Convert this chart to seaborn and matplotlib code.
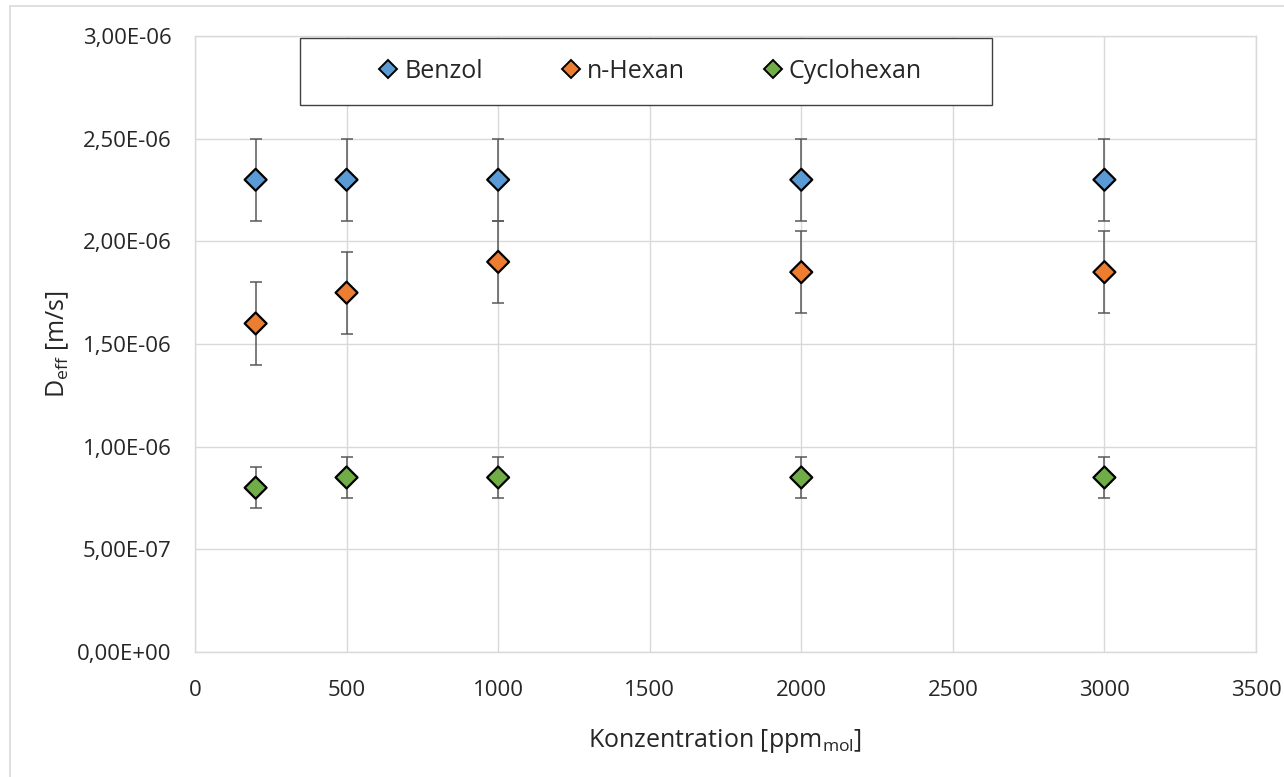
import matplotlib
matplotlib.use("Agg")
import matplotlib.pyplot as plt
from matplotlib.lines import Line2D
from matplotlib.patches import Rectangle
from matplotlib.ticker import FuncFormatter, MultipleLocator
import pandas as pd
import seaborn as sns

# Measured effective diffusion coefficients
concentration = [200, 500, 1000, 2000, 3000]
benzol = [2.30e-6, 2.30e-6, 2.30e-6, 2.30e-6, 2.30e-6]
benzol_err = [0.20e-6, 0.20e-6, 0.20e-6, 0.20e-6, 0.20e-6]
hexan = [1.60e-6, 1.75e-6, 1.90e-6, 1.85e-6, 1.85e-6]
hexan_err = [0.20e-6, 0.20e-6, 0.20e-6, 0.20e-6, 0.20e-6]
cyclohexan = [0.80e-6, 0.85e-6, 0.85e-6, 0.85e-6, 0.85e-6]
cyclohexan_err = [0.10e-6, 0.10e-6, 0.10e-6, 0.10e-6, 0.10e-6]

series_names = ["Benzol", "n-Hexan", "Cyclohexan"]
colors = ["#5B9BD5", "#ED7D31", "#70AD47"]

df = pd.concat([
    pd.DataFrame({"x": concentration, "y": vals, "err": errs, "Stoff": name})
    for name, vals, errs in zip(series_names, [benzol, hexan, cyclohexan],
                                [benzol_err, hexan_err, cyclohexan_err])
], ignore_index=True)

sns.set_theme(style="white")
plt.rcParams["font.family"] = ["Open Sans", "DejaVu Sans"]
plt.rcParams["mathtext.default"] = "regular"

fig = plt.figure(figsize=(12.84, 7.77), dpi=100)
ax = fig.add_axes([195 / 1284, 1 - 652 / 777, (1256 - 195) / 1284, (652 - 36) / 777])

grid_col = "#D9D9D9"
text_col = "#262626"

# error bars first, markers on top
for name in series_names:
    sub = df[df["Stoff"] == name]
    ax.errorbar(sub["x"], sub["y"], yerr=sub["err"], fmt="none",
                ecolor="#595959", elinewidth=1.1, capsize=4, capthick=1.1, zorder=2)

sns.scatterplot(data=df, x="x", y="y", hue="Stoff", hue_order=series_names,
                palette=colors, marker="D", s=125, edgecolor="black",
                linewidth=1.6, legend=False, zorder=3, ax=ax)

ax.set_xlim(0, 3500)
ax.set_ylim(0, 3.0e-6)
ax.xaxis.set_major_locator(MultipleLocator(500))
ax.yaxis.set_major_locator(MultipleLocator(0.5e-6))
ax.yaxis.set_major_formatter(FuncFormatter(lambda v, p: f"{v:.2E}".replace(".", ",")))

ax.grid(True, color=grid_col, linewidth=1.0)
ax.set_axisbelow(True)
for sp in ax.spines.values():
    sp.set_color(grid_col)
    sp.set_linewidth(1.0)

ax.tick_params(axis="both", length=0, labelsize=16, colors=text_col)
ax.tick_params(axis="y", pad=17)
ax.tick_params(axis="x", pad=20)

ax.set_xlabel("Konzentration [ppm$_{mol}$]", fontsize=18, color=text_col, labelpad=19)
ax.set_ylabel("D$_{eff}$ [m/s]", fontsize=18, color=text_col, labelpad=4)

# legend box
box_x0, box_x1, box_y0, box_y1 = 0.099, 0.751, 0.888, 0.997
ax.add_patch(Rectangle((box_x0, box_y0), box_x1 - box_x0, box_y1 - box_y0,
                       transform=ax.transAxes, facecolor="white", edgecolor="#404040",
                       linewidth=1.0, zorder=5, clip_on=False))
handles = [Line2D([], [], linestyle="none", marker="D", markersize=9,
                  markerfacecolor=c, markeredgecolor="black", markeredgewidth=1.4)
           for c in colors]
leg = ax.legend(handles, series_names, loc="center", ncol=3,
                bbox_to_anchor=((box_x0 + box_x1) / 2 + 0.004, (box_y0 + box_y1) / 2),
                fontsize=18, frameon=False, handletextpad=0.25,
                handlelength=0.8, columnspacing=3.1, borderaxespad=0)
leg.set_zorder(6)
for t in leg.get_texts():
    t.set_color(text_col)

# thin outer border of the chart area
fig.add_artist(Line2D([10 / 1284, 10 / 1284], [0, 1 - 6 / 777], transform=fig.transFigure,
                      color=grid_col, linewidth=1.2))
fig.add_artist(Line2D([10 / 1284, 1], [1 - 6 / 777, 1 - 6 / 777], transform=fig.transFigure,
                      color=grid_col, linewidth=1.2))

fig.savefig("out.png", dpi=100, facecolor="white")
